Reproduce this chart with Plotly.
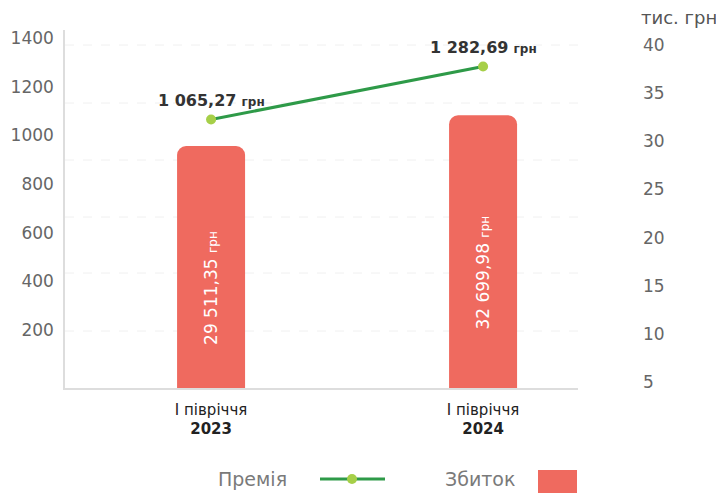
import plotly.graph_objects as go

# ---- data ----
periods = ["I півріччя", "I півріччя"]
years = ["2023", "2024"]
premium_uah = [1065.27, 1282.69]          # Премія, грн (left axis)
premium_labels = ["1 065,27", "1 282,69"]
loss_thousand_uah = [29.51135, 32.69998]  # Збиток, тис. грн (right axis)
loss_labels = ["29 511,35", "32 699,98"]
left_ticks = [200, 400, 600, 800, 1000, 1200, 1400]
right_ticks = [5, 10, 15, 20, 25, 30, 35, 40]

x_pos = list(range(len(years)))
FONT = "DejaVu Sans"
BAR = "#ef6a5f"
LINE = "#2e9a48"
DOT = "#a6cf48"

fig = go.Figure()

fig.add_trace(go.Bar(
    x=x_pos, y=loss_thousand_uah, yaxis="y2", width=0.25,
    marker=dict(color=BAR, cornerradius=9, line=dict(width=0)),
    text=[f"{t} <span style='font-size:12px'>грн</span>" for t in loss_labels],
    textposition="inside", insidetextanchor="middle", textangle=-90,
    textfont=dict(family=FONT, size=17, color="white"),
    constraintext="none", showlegend=False, hoverinfo="skip",
))

fig.add_trace(go.Scatter(
    x=x_pos, y=premium_uah, yaxis="y", mode="lines+markers",
    line=dict(color=LINE, width=3),
    marker=dict(color=DOT, size=10),
    showlegend=False, hoverinfo="skip",
))

annotations = []
for xi, v, t in zip(x_pos, premium_uah, premium_labels):
    annotations.append(dict(
        x=xi, y=v, xref="x", yref="y", yshift=19, showarrow=False,
        xanchor="center", yanchor="middle",
        text=f"<b>{t}</b> <b><span style='font-size:12px'>грн</span></b>",
        font=dict(family=FONT, size=16, color="#333333"),
    ))


# helpers: page pixel -> paper fraction of the plot area (plot area spans x 65..578, y 30..388 on the page)
def px(xp):
    return (xp - 65) / 513


def py(yp):
    return (388 - yp) / 358


LEG_Y = 479
annotations.append(dict(x=px(679), y=py(18), xref="paper", yref="paper", showarrow=False,
                        xanchor="center", yanchor="middle",
                        text="тис. грн", font=dict(family=FONT, size=18, color="#555555")))
# manual legend (text before symbol, as in reference)
annotations.append(dict(x=px(252), y=py(LEG_Y), xref="paper", yref="paper",
                        xanchor="center", yanchor="middle",
                        showarrow=False, text="Премія",
                        font=dict(family=FONT, size=19, color="#7a7a7a")))
annotations.append(dict(x=px(480), y=py(LEG_Y), xref="paper", yref="paper",
                        xanchor="center", yanchor="middle",
                        showarrow=False, text="Збиток",
                        font=dict(family=FONT, size=19, color="#7a7a7a")))

shapes = []
for gy in [45, 103, 160, 217, 273, 331]:
    shapes.append(dict(type="line", xref="paper", yref="paper", x0=0, x1=1, y0=py(gy), y1=py(gy),
                       line=dict(color="#f0f0f0", width=1, dash="dash"), layer="below"))
shapes.append(dict(type="line", xref="paper", yref="paper", x0=px(320), x1=px(385),
                   y0=py(LEG_Y), y1=py(LEG_Y), line=dict(color=LINE, width=3)))
shapes.append(dict(type="circle", xref="paper", yref="paper", xsizemode="pixel", ysizemode="pixel",
                   xanchor=px(352), yanchor=py(LEG_Y), x0=-5, x1=5, y0=-5, y1=5,
                   fillcolor=DOT, line=dict(width=0)))
shapes.append(dict(type="rect", xref="paper", yref="paper", x0=px(538), x1=px(577),
                   y0=py(LEG_Y - 9), y1=py(LEG_Y + 14), fillcolor=BAR, line=dict(width=0)))

# page body has an 8px default margin, so figure margins are shifted by 8px
fig.update_layout(
    width=724, height=493,
    margin=dict(l=57, r=154, t=22, b=113, autoexpand=False),
    paper_bgcolor="white", plot_bgcolor="white",
    font=dict(family=FONT),
    xaxis=dict(range=[-0.537, 1.349], tickvals=x_pos,
               ticktext=[f"{p}<br><b>{y}</b>" for p, y in zip(periods, years)],
               tickfont=dict(family=FONT, size=15, color="#222222"),
               showgrid=False, zeroline=False, showline=True, linecolor="#dddddd", linewidth=1.5,
               ticks="", ticklabelstandoff=7, automargin=False),
    yaxis=dict(range=[-38.4, 1432.9], tickvals=left_ticks,
               tickfont=dict(family=FONT, size=17, color="#666666"),
               showgrid=False, zeroline=False, showline=True, linecolor="#dddddd", linewidth=1.5,
               ticks="", ticklabelstandoff=6, automargin=False),
    yaxis2=dict(range=[4.377, 41.558], tickvals=right_ticks, overlaying="y", side="right",
                tickfont=dict(family=FONT, size=17, color="#666666"),
                showgrid=False, zeroline=False, showline=False, ticks="",
                ticklabelstandoff=64, automargin=False),
    annotations=annotations, shapes=shapes,
)

fig.write_html("out.html")
